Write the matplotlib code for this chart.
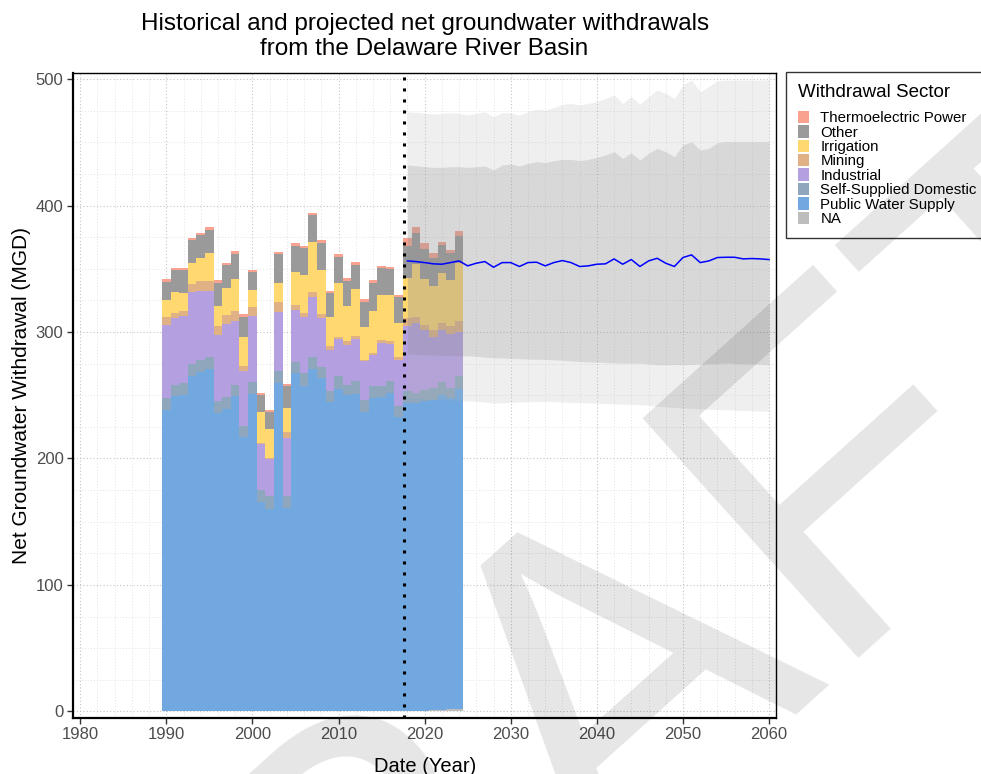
import numpy as np
import matplotlib.pyplot as plt
from matplotlib.patches import Patch
from matplotlib.ticker import MultipleLocator

plt.rcParams['font.family'] = ['Liberation Sans', 'DejaVu Sans']

# historical / reported withdrawals by sector (MGD), one value per year
years = np.arange(1990, 2025)
thermo = [1.8, 1.9, 1.6, 1.6, 1.8, 2.6, 2.6, 1.6, 2.4, 2.7,
          1.6, 1.9, 1.6, 1.8, 2.1, 1.9, 1.9, 2.1, 2.6, 1.8,
          2.1, 1.8, 2.1, 2.1, 2.1, 1.6, 1.3, 1.9, 6.0, 5.2,
          4.8, 3.5, 2.6, 2.6, 3.7]
other = [14.5, 17.1, 18.1, 18.4, 18.5, 17.9, 17.7, 18.2, 19.8, 16.0,
         14.5, 13.4, 13.7, 22.4, 17.2, 20.5, 21.0, 21.3, 21.1, 19.0,
         21.0, 20.0, 19.3, 19.8, 22.1, 21.3, 20.8, 20.5, 25.6, 24.2,
         23.7, 22.8, 21.9, 21.1, 21.3]
irrigation = [13.9, 17.1, 14.0, 16.6, 17.9, 22.4, 15.8, 21.0, 24.7, 22.2,
              13.0, 24.2, 22.9, 15.5, 19.2, 26.3, 30.3, 39.0, 34.7, 22.4,
              42.2, 28.2, 36.6, 26.3, 33.7, 36.1, 36.9, 27.1, 31.5, 41.7,
              36.0, 34.8, 40.0, 36.3, 45.8]
mining = [5.8, 3.9, 3.9, 6.3, 7.6, 7.6, 7.3, 7.1, 8.2, 4.7,
          7.2, 0.5, 0.5, 7.4, 4.7, 4.0, 3.4, 4.5, 3.4, 3.4,
          2.1, 2.6, 2.6, 1.3, 1.3, 1.6, 1.8, 1.9, 6.1, 5.2,
          4.0, 4.8, 5.3, 6.6, 8.7]
industrial = [58.0, 52.7, 53.2, 56.6, 54.8, 52.7, 52.7, 58.0, 50.5, 42.9,
              52.4, 36.4, 29.7, 47.4, 45.8, 41.3, 44.0, 47.4, 38.3, 32.4,
              29.4, 31.6, 33.7, 30.3, 25.0, 34.2, 29.8, 36.3, 51.9, 55.3,
              47.4, 40.8, 41.6, 42.7, 35.5]
self_domestic = [9.2, 9.2, 9.2, 9.5, 10.0, 9.5, 9.2, 9.2, 8.7, 9.2,
                 9.2, 9.7, 10.0, 9.2, 9.3, 8.7, 9.8, 9.2, 9.2, 9.2,
                 10.1, 7.9, 9.7, 10.0, 9.3, 9.0, 9.2, 9.2, 9.2, 7.9,
                 9.2, 9.2, 9.7, 7.9, 10.1]
public_supply = [238.5, 249.1, 250.4, 265.4, 268.0, 270.6, 235.9, 239.3, 249.6, 216.7,
                 251.2, 165.6, 160.1, 259.6, 160.8, 267.5, 257.7, 270.9, 263.5, 244.3,
                 254.8, 250.4, 251.2, 236.4, 247.7, 248.5, 251.7, 232.5, 243.8, 243.8,
                 245.1, 245.6, 248.9, 245.7, 252.8]
na_sector = [0, 0, 0, 0, 0, 0, 0, 0, 0, 0,
             0, 0, 0, 0, 0, 0, 0, 0, 0, 0,
             0, 0, 0, 0, 0, 0, 0, 0, 0, 0,
             0, 0.8, 1.5, 2.0, 2.0]

# projection (MGD)
proj_years = np.arange(2018, 2061)
proj_median = [356.2, 355.7, 354.9, 353.9, 353.6, 354.9, 356.2, 352.3, 354.4, 355.7,
               351.2, 354.9, 354.9, 351.8, 354.9, 355.2, 352.3, 354.9, 356.5, 354.9,
               351.8, 352.3, 353.6, 353.9, 357.8, 353.6, 357.3, 351.8, 356.2, 358.3,
               354.4, 351.8, 358.9, 361.0, 354.9, 356.2, 358.9, 359.1, 359.1, 357.8,
               358.1, 357.8, 357.3]
inner_hi = [432.1, 431.5, 430.7, 430.2, 430.2, 430.7, 430.7, 430.2, 430.7, 431.3,
            428.1, 432.1, 432.8, 431.3, 433.4, 434.7, 433.9, 435.5, 436.5, 436.5,
            435.5, 436.5, 438.1, 440.0, 442.6, 437.3, 441.8, 436.0, 441.3, 445.2,
            442.6, 438.6, 447.9, 450.5, 443.9, 445.2, 449.7, 450.5, 450.5, 450.5,
            450.5, 450.5, 450.5]
inner_lo = [282.8, 282.4, 282.0, 281.8, 281.5, 281.3, 281.2, 281.2, 280.8, 280.1,
            279.6, 279.4, 279.1, 278.9, 278.6, 278.5, 278.3, 278.0, 277.6, 277.2,
            276.7, 276.4, 276.2, 275.9, 275.6, 275.4, 275.4, 275.3, 274.8, 274.1,
            274.1, 274.3, 274.1, 274.4, 274.6, 274.9, 275.1, 275.4, 275.2, 274.9,
            274.9, 274.6, 274.3]
outer_hi = [474.2, 473.7, 472.9, 472.3, 472.9, 473.4, 472.9, 471.6, 472.9, 474.2,
            470.2, 473.4, 473.4, 471.6, 474.2, 476.0, 475.5, 477.6, 480.0, 480.8,
            479.5, 480.8, 482.1, 484.7, 487.4, 480.8, 486.0, 480.2, 486.0, 491.3,
            488.7, 484.7, 495.3, 499.2, 490.0, 494.0, 498.7, 499.2, 499.2, 499.2,
            499.2, 499.2, 499.2]
outer_lo = [247.8, 247.5, 247.3, 247.0, 246.5, 246.2, 246.0, 245.6, 245.2, 244.6,
            243.8, 244.0, 244.3, 244.6, 244.8, 245.1, 245.0, 245.0, 244.6, 244.4,
            244.2, 243.9, 243.8, 243.4, 243.2, 243.0, 242.7, 242.5, 242.0, 241.4,
            240.8, 240.3, 239.9, 239.6, 239.2, 239.0, 238.7, 238.5, 238.2, 238.0,
            237.7, 237.5, 237.2]

split_year = 2017.65

sectors = ['Thermoelectric Power', 'Other', 'Irrigation', 'Mining', 'Industrial',
           'Self-Supplied Domestic', 'Public Water Supply', 'NA']
colors = ['#f8a28f', '#9a9a9a', '#ffd870', '#e0b184', '#b4a0e1',
          '#8fa7bd', '#70a8df', '#bdbdbd']
values = [thermo, other, irrigation, mining, industrial, self_domestic,
          public_supply, na_sector]

fig = plt.figure(figsize=(9.81, 7.74), dpi=100)
ax = fig.add_axes([0.0747, 0.0727, 0.7163, 0.8333])

# stacked steps, bottom sector first
edges = np.append(years - 0.5, years[-1] + 0.5)
base = np.zeros(len(years))
for vals, col in zip(values[::-1], colors[::-1]):
    top = base + np.array(vals)
    ax.stairs(top, edges, baseline=base, fill=True, color=col, lw=0, zorder=2)
    base = top

ax.fill_between(proj_years, outer_lo, outer_hi, color='#b3b3b3', alpha=0.2, lw=0, zorder=3)
ax.fill_between(proj_years, inner_lo, inner_hi, color='#7f7f7f', alpha=0.2, lw=0, zorder=3)
ax.plot(proj_years, proj_median, color='#0000ff', lw=1.1, zorder=4)
ax.axvline(split_year, color='black', lw=2.2, ls=(0, (1, 2.6)), zorder=5)

ax.set_xlim(1979.2, 2060.8)
ax.set_ylim(-5, 505)
ax.xaxis.set_major_locator(MultipleLocator(10))
ax.xaxis.set_minor_locator(MultipleLocator(2))
ax.yaxis.set_major_locator(MultipleLocator(100))
ax.yaxis.set_minor_locator(MultipleLocator(25))
ax.grid(which='major', color='#c4c4c4', lw=0.8, ls=(0, (1, 2)), zorder=0)
ax.grid(which='minor', color='#e2e2e2', lw=0.7, ls=(0, (1, 2)), zorder=0)
ax.set_axisbelow(True)
ax.tick_params(which='major', length=4, width=1, color='#333333',
               labelsize=12, labelcolor='#4d4d4d', pad=3)
ax.tick_params(which='minor', length=0)
for s in ['left', 'bottom']:
    ax.spines[s].set_linewidth(1.6)
for s in ['top', 'right']:
    ax.spines[s].set_linewidth(1.0)

ax.set_xlabel('Date (Year)', fontsize=14.5, labelpad=10.5)
ax.set_ylabel('Net Groundwater Withdrawal (MGD)', fontsize=15, labelpad=3.5)

fig.text(0.4328, 1 - 13 / 774, 'Historical and projected net groundwater withdrawals\n'
         'from the Delaware River Basin', fontsize=17.5, ha='center', va='top',
         linespacing=1.2)

handles = [Patch(facecolor=c, edgecolor='none') for c in colors]
leg = ax.legend(handles, sectors, title='Withdrawal Sector', loc='upper left',
                bbox_to_anchor=(786 / 981, 1 - 72 / 774), bbox_transform=fig.transFigure,
                frameon=True, fancybox=False, edgecolor='black', fontsize=10.8,
                title_fontsize=13.5, handlelength=0.7, handleheight=0.9,
                labelspacing=0.0, handletextpad=0.8, borderpad=0.8,
                borderaxespad=0, alignment='left')
leg.get_frame().set_linewidth(1.0)
leg._legend_box.sep = 7

# watermark
fig.text(585 / 981, 1 - 708 / 774, 'DRAFT', fontsize=338, rotation=42,
         rotation_mode='anchor', ha='center', va='center', color='black',
         alpha=0.1, zorder=10)

fig.savefig('out.png', dpi=100)
